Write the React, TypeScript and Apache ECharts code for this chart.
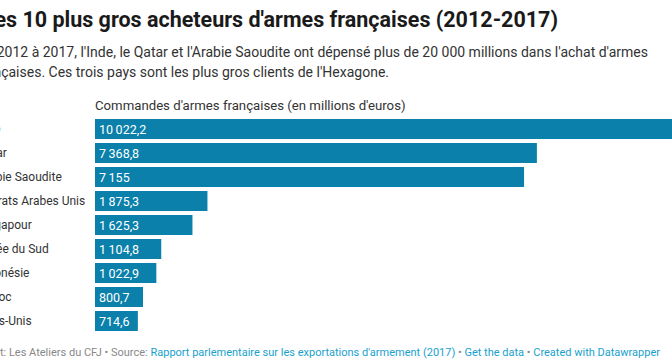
import React, { useEffect, useRef } from "react";
import * as echarts from "echarts";

const categories = [
  "Inde",
  "Qatar",
  "Arabie Saoudite",
  "Émirats Arabes Unis",
  "Singapour",
  "Corée du Sud",
  "Indonésie",
  "Maroc",
  "États-Unis",
];
const values = [10022.2, 7368.8, 7155, 1875.3, 1625.3, 1104.8, 1022.9, 800.7, 714.6];

const title = "Les 10 plus gros acheteurs d'armes françaises (2012-2017)";
const subtitle1 =
  "De 2012 à 2017, l'Inde, le Qatar et l'Arabie Saoudite ont dépensé plus de 20 000 millions dans l'achat d'armes";
const subtitle2 = "françaises. Ces trois pays sont les plus gros clients de l'Hexagone.";
const axisTitle = "Commandes d'armes françaises (en millions d'euros)";

function fmt(v: number): string {
  const parts = v.toString().split(".");
  const int = parts[0].replace(/\B(?=(\d{3})+(?!\d))/g, "\u2009");
  return parts.length > 1 ? int + "," + parts[1] : int;
}

export default function App() {
  const ref = useRef<HTMLDivElement>(null);
  useEffect(() => {
    if (!ref.current) return;
    const chart = echarts.init(ref.current, null, { renderer: "svg" });
    const font = "Roboto, 'Noto Sans', sans-serif";
    chart.setOption({
      animation: false,
      backgroundColor: "#ffffff",
      textStyle: { fontFamily: font },
      grid: {
        left: 95,
        top: 117,
        width: 601,
        height: 216,
        containLabel: false,
        outerBoundsMode: "none",
      },
      xAxis: {
        type: "value",
        min: 0,
        max: 10022.2,
        show: false,
      },
      yAxis: {
        type: "category",
        data: categories,
        inverse: true,
        axisLine: { show: false },
        axisTick: { show: false },
        splitLine: { show: false },
        axisLabel: {
          align: "left",
          margin: 117.5,
          fontSize: 12,
          fontFamily: font,
          color: (_v: any, i: number) => (i === 0 ? "#3fb5e6" : "#333333"),
        },
      },
      series: [
        {
          type: "bar",
          data: values,
          barWidth: 20,
          itemStyle: { color: "#0a80aa" },
          label: {
            show: true,
            position: "insideLeft",
            distance: 4,
            color: "#ffffff",
            fontSize: 12.5,
            fontFamily: font,
            formatter: (p: any) => fmt(p.value),
          },
        },
      ],
      graphic: [
        {
          type: "text",
          x: 558,
          y: 19,
          style: {
            text: title,
            align: "right",
            verticalAlign: "middle",
            fontSize: 21.5,
            fontWeight: "bold",
            fontFamily: font,
            fill: "#1a1a1a",
          },
        },
        {
          type: "text",
          x: 648,
          y: 52,
          style: {
            text: subtitle1,
            align: "right",
            verticalAlign: "middle",
            fontSize: 14,
            fontFamily: font,
            fill: "#333333",
          },
        },
        {
          type: "text",
          x: 389,
          y: 72,
          style: {
            text: subtitle2,
            align: "right",
            verticalAlign: "middle",
            fontSize: 14,
            fontFamily: font,
            fill: "#333333",
          },
        },
        {
          type: "text",
          x: 95,
          y: 105,
          style: {
            text: axisTitle,
            align: "left",
            verticalAlign: "middle",
            fontSize: 13.2,
            fontFamily: font,
            fill: "#333333",
          },
        },
        {
          type: "text",
          x: 660,
          y: 352,
          style: {
            text:
              "{g|Chart: Les Ateliers du CFJ • Source: }{b|Rapport parlementaire sur les exportations d'armement (2017)}{g| • }{b|Get the data}{g| • }{b|Created with Datawrapper}",
            align: "right",
            verticalAlign: "middle",
            fontSize: 11,
            fontFamily: font,
            rich: {
              g: { fill: "#888888", fontSize: 11, fontFamily: font },
              b: { fill: "#18a1cd", fontSize: 11, fontFamily: font },
            },
          },
        },
      ],
    });
    return () => chart.dispose();
  }, []);
  return (
    <div
      ref={ref}
      style={{ position: "fixed", left: 0, top: 0, width: 672, height: 363, background: "#fff" }}
    />
  );
}
